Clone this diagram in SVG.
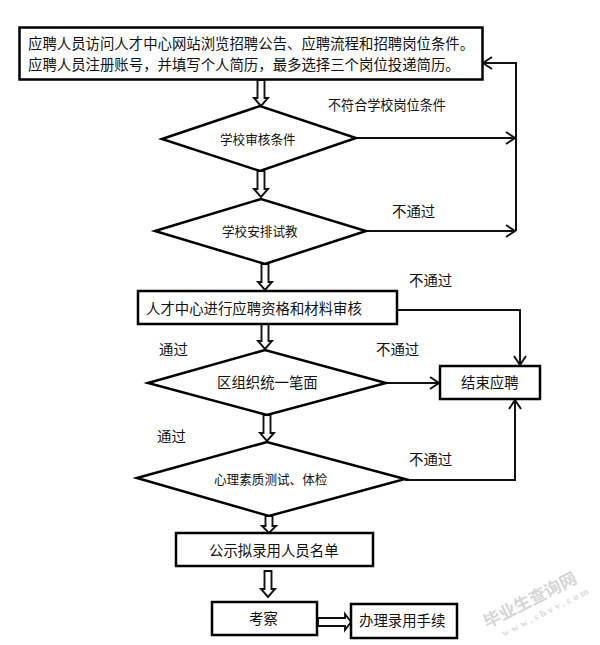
<svg xmlns="http://www.w3.org/2000/svg" width="600" height="645" viewBox="0 0 600 645">
<style>
text{font-family:"Noto Sans CJK SC","Liberation Sans",sans-serif;fill:#111}
.n{fill:#fff;stroke:#000;stroke-width:2.5}
.t{font-size:14.4px}
.s{font-size:12.6px}
.c{font-size:13.1px}
.l{fill:none;stroke:#111;stroke-width:2}
.b{fill:#fff;stroke:#111;stroke-width:1.9}
.w{font-size:17px;fill:#d6d6d6;font-weight:700}
.w2{font-size:10px;fill:#dadada;font-weight:700;letter-spacing:3px;font-family:"Liberation Serif",serif}
</style>
<defs>
<marker id="a" markerUnits="userSpaceOnUse" markerWidth="12" markerHeight="14" refX="10" refY="7" orient="auto"><path d="M1 1L10 7L1 13" fill="none" stroke="#111" stroke-width="2"/></marker>
<path id="d" class="b" d="M-3.500 0V18H-7L0 26L7 18H3.500V0Z"/>
</defs>
<rect width="600" height="645" fill="#fff"/>
<g id="connectors">
<path class="l" d="M356 138H515" marker-end="url(#a)"/>
<path class="l" d="M366 231H515" marker-end="url(#a)"/>
<path class="l" d="M516 231V63H483" marker-end="url(#a)"/>
<path class="l" d="M397 310H520V365" marker-end="url(#a)"/>
<path class="l" d="M386 383H439" marker-end="url(#a)"/>
<path class="l" d="M405 480H515V400" marker-end="url(#a)"/>
<use href="#d" x="261" y="80"/>
<use href="#d" x="261" y="171"/>
<use href="#d" x="265" y="264"/>
<use href="#d" x="265" y="323"/>
<use href="#d" x="267" y="415"/>
<path class="b" d="M265.500 516V526H262L269 533L276 526H272.500V516Z"/>
<use href="#d" x="268" y="571"/>
<path class="b" d="M318 618H345V614L351 622L345 630V626H318Z"/>
</g>
<g id="n1"><rect class="n" x="19.500" y="27.500" width="463" height="52"/>
<text class="t" x="28" y="49">应聘人员访问人才中心网站浏览招聘公告、应聘流程和招聘岗位条件。</text>
<text class="t" x="28" y="70">应聘人员注册账号，并填写个人简历，最多选择三个岗位投递简历。</text></g>
<g id="n2"><path class="n" d="M162 139L260 106L356 138L260 171Z"/><text class="s" x="220" y="144">学校审核条件</text></g>
<g id="n3"><path class="n" d="M155 231L261 199L366 231L265 264Z"/><text class="s" x="222" y="236">学校安排试教</text></g>
<g id="n4"><rect class="n" x="138" y="291" width="259" height="33"/><text class="t" x="146" y="314">人才中心进行应聘资格和材料审核</text></g>
<g id="n5"><path class="n" d="M148 383L265 350L386 383L267 415Z"/><text class="t" x="217" y="388">区组织统一笔面</text></g>
<g id="n6"><rect class="n" x="440" y="366" width="100" height="33"/><text class="t" x="461" y="388">结束应聘</text></g>
<g id="n7"><path class="n" d="M137 478L267 442L405 479L269 516Z"/><text class="s" x="214" y="484">心理素质测试、体检</text></g>
<g id="n8"><rect class="n" x="176" y="533" width="197" height="33"/><text class="t" x="209" y="556">公示拟录用人员名单</text></g>
<g id="n9"><rect class="n" x="212" y="602" width="105" height="33"/><text class="t" x="249" y="624">考察</text></g>
<g id="n10"><rect class="n" x="351" y="604" width="106" height="34"/><text class="t" x="359" y="626">办理录用手续</text></g>
<g id="labels">
<text class="c" x="328" y="110">不符合学校岗位条件</text>
<text class="t" x="392" y="217">不通过</text>
<text class="t" x="409" y="286">不通过</text>
<text class="t" x="159" y="355">通过</text>
<text class="t" x="376" y="355">不通过</text>
<text class="t" x="157" y="442">通过</text>
<text class="t" x="409" y="465">不通过</text>
</g>
<g id="watermark" transform="rotate(-27 530 600)">
<text class="w" x="479" y="606">毕业生查询网</text>
<text class="w2" x="490" y="621">www.shvv.com</text>
</g>
</svg>
